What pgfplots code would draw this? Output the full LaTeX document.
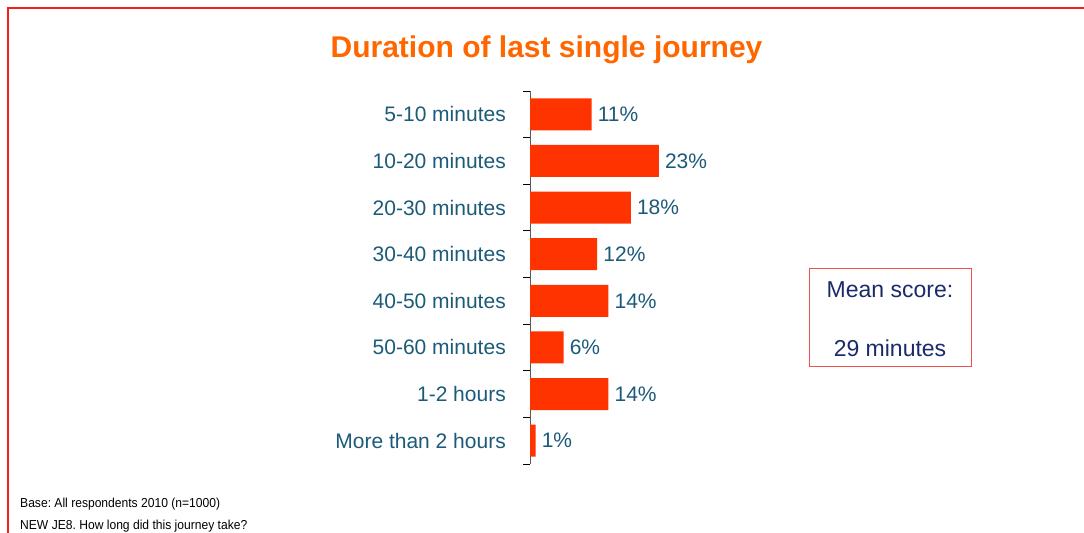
\documentclass[border=0pt]{standalone}
\usepackage{pgfplots}
\pgfplotsset{compat=1.18}
\usepackage{fontspec}
\setmainfont{Liberation Sans}
\frenchspacing
\definecolor{barred}{HTML}{FF3300}
\definecolor{lab}{HTML}{1B5A78}
\definecolor{ttl}{HTML}{FF6600}
\definecolor{navy}{HTML}{1A2A6A}
\definecolor{framered}{HTML}{F02020}
\definecolor{boxred}{HTML}{F05050}
\begin{document}
\begin{tikzpicture}
\useasboundingbox (0,0) rectangle (1084bp,-533bp);
\draw[framered, line width=1.3bp] (8bp,-533bp) -- (8bp,-8bp) -- (1084bp,-8bp);
\node[anchor=base, text=ttl, font=\fontsize{30bp}{36bp}\selectfont\bfseries] at (546.5bp,-57bp) {Duration of last single journey};
\begin{axis}[
  at={(530bp,-91bp)}, anchor=north west,
  scale only axis, width=168bp, height=373bp,
  xmin=0, xmax=30, ymin=-0.5, ymax=7.5, y dir=reverse,
  axis x line=none, axis y line*=left,
  xbar, bar width=32bp, bar shift=0pt,
  xtick=\empty,
  ytick={0,...,7},
  yticklabels={5-10 minutes,10-20 minutes,20-30 minutes,30-40 minutes,40-50 minutes,50-60 minutes,1-2 hours,More than 2 hours},
  major tick length=0pt,
  minor ytick={-0.5,0.5,1.5,2.5,3.5,4.5,5.5,6.5,7.5},
  minor tick length=7bp,
  tick align=outside,
  y axis line style={draw=gray!70!black, line width=1bp},
  minor tick style={draw=black, line width=1bp},
  /pgf/number format/assume math mode=true,
  yticklabel style={font=\fontsize{21bp}{25bp}\selectfont, text=lab, inner sep=0pt, xshift=-24bp},
  nodes near coords={\pgfmathprintnumber{\pgfplotspointmeta}\%},
  every node near coord/.append style={font=\fontsize{21bp}{25bp}\selectfont, text=lab, anchor=west, inner sep=0pt, xshift=6bp},
  point meta=x,
  clip=false,
]
\addplot[fill=barred, draw=none] coordinates {(11,0) (23,1) (18,2) (12,3) (14,4) (6,5) (14,6) (1,7)};
\end{axis}
\draw[boxred, line width=1bp] (809bp,-268bp) rectangle (971bp,-366bp);
\node[anchor=base, text=navy, inner sep=0pt, font=\fontsize{23bp}{27bp}\selectfont] at (890bp,-297bp) {Mean score:};
\node[anchor=base, text=navy, inner sep=0pt, font=\fontsize{23bp}{27bp}\selectfont] at (890bp,-356bp) {29 minutes};
\node[anchor=base west, inner sep=0pt, font=\fontsize{13bp}{15bp}\selectfont] at (20bp,-507bp) {\scalebox{0.93}[1]{Base: All respondents 2010 (n=1000)}};
\node[anchor=base west, inner sep=0pt, font=\fontsize{13bp}{15bp}\selectfont] at (20bp,-529bp) {\scalebox{0.93}[1]{NEW JE8. How long did this journey take?}};
\end{tikzpicture}
\end{document}
